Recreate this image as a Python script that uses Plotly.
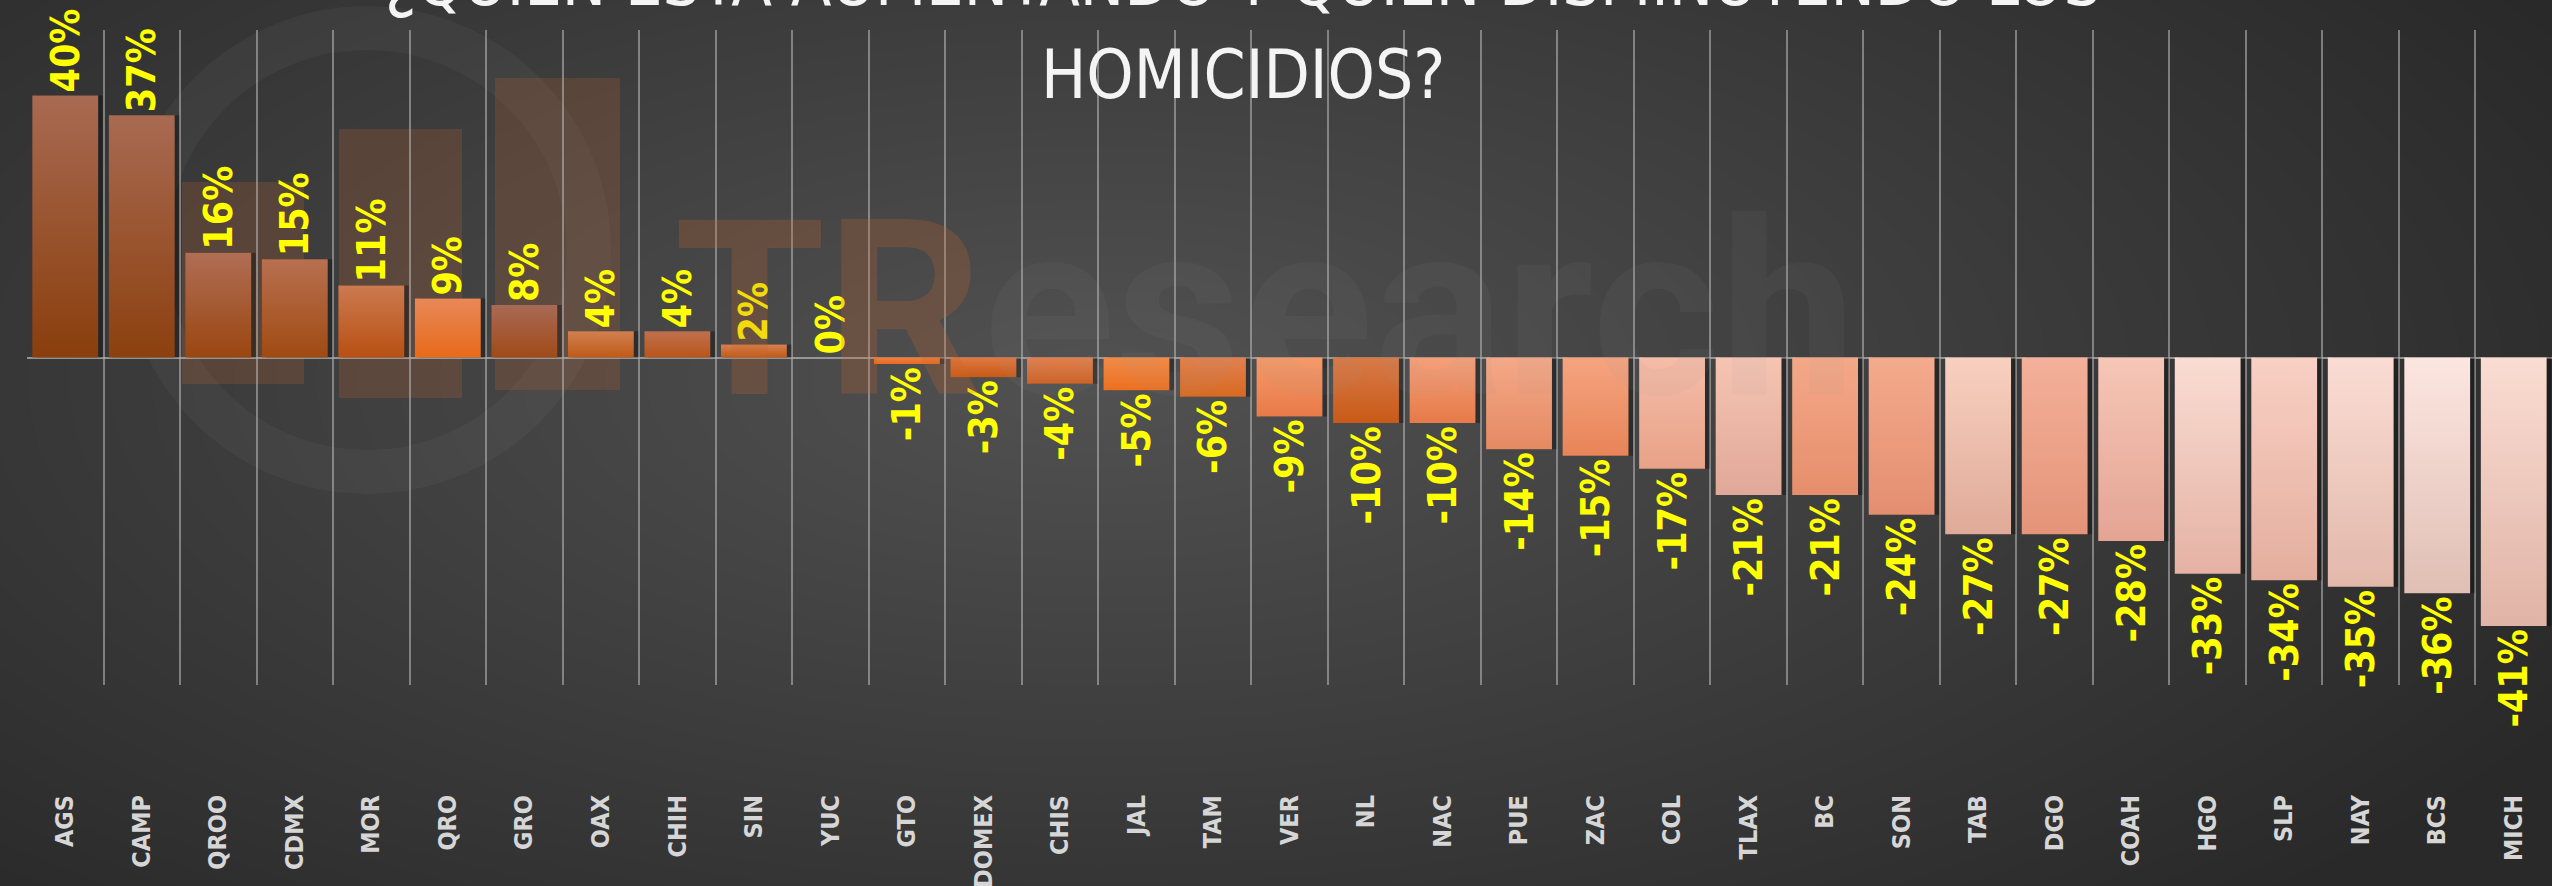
import plotly.graph_objects as go

# ---------------- data ----------------
states = ["AGS", "CAMP", "QROO", "CDMX", "MOR", "QRO", "GRO", "OAX", "CHIH", "SIN", "YUC",
          "GTO", "EDOMEX", "CHIS", "JAL", "TAM", "VER", "NL", "NAC", "PUE", "ZAC", "COL",
          "TLAX", "BC", "SON", "TAB", "DGO", "COAH", "HGO", "SLP", "NAY", "BCS", "MICH"]
change_pct = [40, 37, 16, 15, 11, 9, 8, 4, 4, 2, 0,
              -1, -3, -4, -5, -6, -9, -10, -10, -14, -15, -17,
              -21, -21, -24, -27, -27, -28, -33, -34, -35, -36, -41]
# bar gradient colours (top, bottom)
top_colors = ["#a86a52", "#a86a52", "#b06e55", "#b87050", "#cc7a50", "#e88858", "#a86a55",
              "#d08050", "#c07050", "#d88050", "#d88050",
              "#f08040", "#e07840", "#e08050", "#f08a48", "#e08050", "#f59a6a", "#d87a48",
              "#f5a07a", "#f5a888", "#f5a480", "#f5bca8",
              "#f6c4b2", "#f4a888", "#f4aa8c", "#f8d0c0", "#f4b09a", "#f6c6b6", "#fadcd2",
              "#f8d0c4", "#fadcd4", "#fce6e0", "#fadcd2"]
bottom_colors = ["#8a3e0c", "#8c400e", "#9a4610", "#a04a12", "#b85012", "#e86a1a", "#a04a18",
                 "#c05a18", "#b85518", "#c05a18", "#c05a18",
                 "#e86a20", "#c85a18", "#d06020", "#ec7020", "#d86a20", "#e87a48", "#c85a18",
                 "#e67a48", "#e48a62", "#e88458", "#e8a288",
                 "#e0a898", "#e68e6c", "#e48e70", "#e0aa98", "#e49478", "#e4a494", "#e4b2a4",
                 "#e4ae9e", "#e2b8aa", "#e0bfb4", "#e0b4a6"]
title_line1 = "¿QUIÉN ESTÁ AUMENTANDO Y QUIÉN DISMINUYENDO LOS"
title_line2 = "HOMICIDIOS?"

COND = "DejaVu Sans Condensed, Liberation Sans Narrow, sans-serif"

W, H = 2552, 886
M_L, M_R, M_T, M_B = 27, 0, 30, 201
plot_h = H - M_T - M_B
plot_w = W - M_L - M_R
BAR_HALF = 0.43
n = len(states)
idx = list(range(n))


def py(pix):
    return (H - M_B - pix) / plot_h


def px(pix):
    return (pix - M_L) / plot_w


fig = go.Figure()

# drop shadows
for i, v in zip(idx, change_pct):
    if v == 0:
        continue
    fig.add_trace(go.Scatter(
        x=[i - BAR_HALF + 0.05, i + BAR_HALF + 0.06, i + BAR_HALF + 0.06, i - BAR_HALF + 0.05],
        y=[0, 0, v, v],
        fill="toself", mode="none", fillcolor="rgba(0,0,0,0.35)", hoverinfo="skip"))

# gradient bars
for i, v, tc, bc in zip(idx, change_pct, top_colors, bottom_colors):
    if v == 0:
        continue
    fig.add_trace(go.Scatter(
        x=[i - BAR_HALF, i + BAR_HALF, i + BAR_HALF, i - BAR_HALF],
        y=[0, 0, v, v],
        fill="toself", mode="none",
        fillgradient=dict(type="vertical", colorscale=[[0, bc], [1, tc]]),
        hoverinfo="skip"))

# value labels (transparent bars carry the text)
fig.add_trace(go.Bar(
    x=idx, y=change_pct,
    marker=dict(color="rgba(0,0,0,0)", line=dict(width=0)),
    width=2 * BAR_HALF,
    text=[f"{v}%" for v in change_pct],
    textposition="outside",
    textangle=-90,
    constraintext="none",
    textfont=dict(color="#ffff00", size=39, family=COND, weight="bold"),
    cliponaxis=False,
    hoverinfo="skip",
))

shapes = []
# background radial glow
ng = 40
cx, cy = 1100, 380
for k in range(ng):
    f = 1 - k / ng
    rx, ry = 1650 * f, 720 * f
    shapes.append(dict(type="circle", xref="paper", yref="paper", layer="below",
                       x0=px(cx - rx), x1=px(cx + rx), y0=py(cy + ry), y1=py(cy - ry),
                       fillcolor="rgba(255,255,255,0.0068)", line=dict(width=0)))
# faint logo watermark
shapes.append(dict(type="circle", xref="paper", yref="paper", layer="below",
                   x0=px(367 - 222), x1=px(367 + 222), y0=py(250 + 222), y1=py(250 - 222),
                   fillcolor="rgba(0,0,0,0)", line=dict(width=44, color="rgba(255,255,255,0.035)")))
for (x0, x1, y0, y1) in [(182, 304, 182, 384), (339, 462, 129, 398), (495, 620, 78, 390)]:
    shapes.append(dict(type="rect", xref="paper", yref="paper", layer="below",
                       x0=px(x0), x1=px(x1), y0=py(y1), y1=py(y0),
                       fillcolor="rgba(190,100,45,0.22)", line=dict(width=0)))

annotations = [
    dict(text=title_line1, xref="paper", yref="paper", x=px(1243), y=py(23),
         xanchor="center", yanchor="bottom", showarrow=False,
         font=dict(size=66, color="#f4f4f4", family=COND)),
    dict(text=title_line2, xref="paper", yref="paper", x=px(1243), y=py(75),
         xanchor="center", yanchor="middle", showarrow=False,
         font=dict(size=67, color="#f4f4f4", family=COND)),
    dict(text="<span style='color:rgba(200,105,40,0.24)'>TR</span>"
              "<span style='color:rgba(160,160,160,0.07)'>esearch</span>",
         xref="paper", yref="paper", x=px(672), y=py(310),
         xanchor="left", yanchor="middle", showarrow=False,
         font=dict(size=245, family="Roboto, sans-serif", weight="bold")),
]

fig.update_layout(
    width=W, height=H,
    margin=dict(l=M_L, r=M_R, t=M_T, b=M_B, pad=0, autoexpand=False),
    paper_bgcolor="#292929",
    plot_bgcolor="rgba(0,0,0,0)",
    showlegend=False,
    shapes=shapes,
    annotations=annotations,
    xaxis=dict(range=[-0.5, n - 0.5], tickmode="array", tickvals=idx, ticktext=states,
               showgrid=False, zeroline=False, showline=False, automargin=False,
               ticks="", tickangle=-90, ticklabelstandoff=104,
               tickfont=dict(size=25, color="#d6d6d6", family=COND, weight="bold"),
               minor=dict(tickmode="linear", tick0=-0.5, dtick=1, showgrid=True,
                          gridcolor="rgba(190,190,190,0.55)", gridwidth=1.5, ticks="")),
    yaxis=dict(range=[-50, 50], showticklabels=False, showgrid=False, automargin=False,
               zeroline=True, zerolinecolor="rgba(170,170,170,0.8)", zerolinewidth=2,
               showline=False, ticks=""),
)

fig.write_html("out.html",
               config={"displayModeBar": False},
               post_script="document.body.style.margin='0';"
                           "document.body.style.overflow='hidden';")
